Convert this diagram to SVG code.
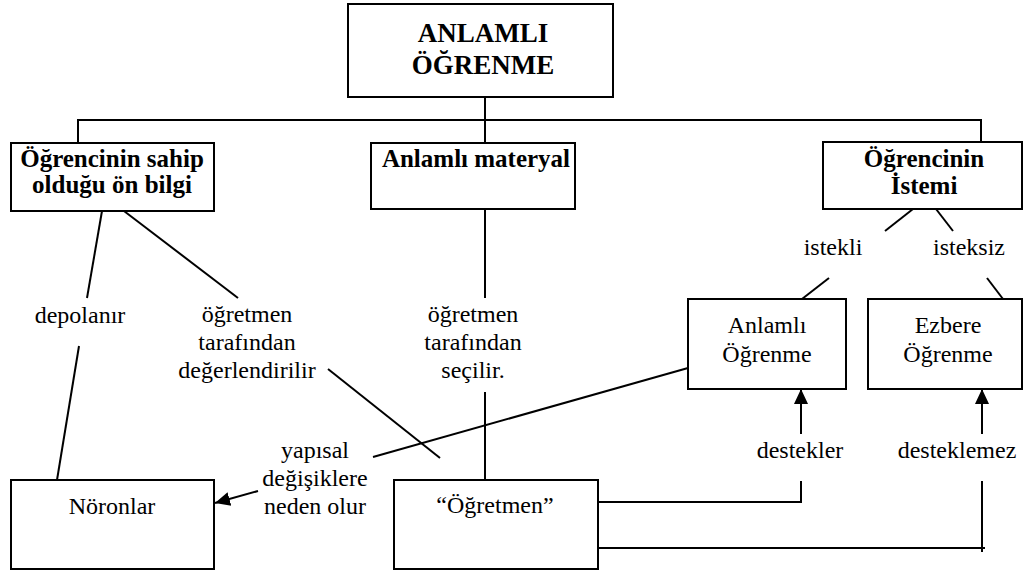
<svg xmlns="http://www.w3.org/2000/svg" width="1023" height="571" viewBox="0 0 1023 571">
<style>
.box{fill:#fff;stroke:#000;stroke-width:2}
.ln{fill:none;stroke:#000;stroke-width:2}
.t{font-family:"Liberation Serif","Times New Roman",serif;font-size:24px;text-anchor:middle;fill:#000}
.b{font-family:"Liberation Serif","Times New Roman",serif;font-size:25px;font-weight:bold;text-anchor:middle;fill:#000}
.h{font-size:27px}
</style>
<defs>
<marker id="ah" markerUnits="userSpaceOnUse" markerWidth="16" markerHeight="16" viewBox="0 0 16 16" refX="15" refY="8" orient="auto">
<path d="M0,1 L15,8 L0,15 Z" fill="#000"/>
</marker>
</defs>
<rect width="1023" height="571" fill="#fff"/>
<g id="connectors">
<polyline class="ln" points="485,97 485,120"/>
<polyline class="ln" points="78,143 78,120 981,120 981,143"/>
<line class="ln" x1="485" y1="120" x2="485" y2="143"/>
<line class="ln" x1="102" y1="211" x2="87" y2="298"/>
<line class="ln" x1="79" y1="346" x2="57" y2="480"/>
<line class="ln" x1="124" y1="211" x2="238" y2="298"/>
<line class="ln" x1="328" y1="369" x2="440" y2="458"/>
<line class="ln" x1="485" y1="209" x2="485" y2="298"/>
<line class="ln" x1="485" y1="392" x2="485" y2="480"/>
<line class="ln" x1="913" y1="209" x2="885" y2="231"/>
<line class="ln" x1="936" y1="209" x2="953" y2="231"/>
<line class="ln" x1="829" y1="278" x2="802" y2="299"/>
<line class="ln" x1="987" y1="278" x2="1003" y2="299"/>
<line class="ln" x1="688" y1="368" x2="373" y2="457"/>
<line class="ln" x1="258" y1="491" x2="215" y2="503" marker-end="url(#ah)"/>
<line class="ln" x1="801" y1="434" x2="801" y2="389" marker-end="url(#ah)"/>
<line class="ln" x1="982" y1="434" x2="982" y2="389" marker-end="url(#ah)"/>
<polyline class="ln" points="801,481 801,502 598,502"/>
<line class="ln" x1="982" y1="481" x2="982" y2="552"/>
<line class="ln" x1="598" y1="548" x2="985" y2="548"/>
</g>
<g id="labels">
<text class="t" x="80" y="323">depolanır</text>
<text class="t" x="247" y="322">öğretmen</text>
<text class="t" x="247" y="350">tarafından</text>
<text class="t" x="247" y="378">değerlendirilir</text>
<text class="t" x="473" y="322">öğretmen</text>
<text class="t" x="473" y="350">tarafından</text>
<text class="t" x="473" y="378">seçilir.</text>
<text class="t" x="833" y="255">istekli</text>
<text class="t" x="969" y="255">isteksiz</text>
<text class="t" x="800" y="458">destekler</text>
<text class="t" x="957" y="458">desteklemez</text>
<text class="t" x="315" y="458">yapısal</text>
<text class="t" x="315" y="486">değişiklere</text>
<text class="t" x="315" y="514">neden olur</text>
</g>
<g id="n-anlamli-ogrenme-top">
<rect class="box" x="348" y="4" width="265" height="93"/>
<text class="b h" x="483" y="42">ANLAMLI</text>
<text class="b h" x="483" y="74">ÖĞRENME</text>
</g>
<g id="n-onbilgi">
<rect class="box" x="11" y="143" width="203" height="68"/>
<text class="b" x="112" y="167">Öğrencinin sahip</text>
<text class="b" x="112" y="193">olduğu ön bilgi</text>
</g>
<g id="n-materyal">
<rect class="box" x="371" y="143" width="204" height="66"/>
<text class="b" x="476" y="167">Anlamlı materyal</text>
</g>
<g id="n-istemi">
<rect class="box" x="823" y="142" width="199" height="67"/>
<text class="b" x="924" y="167">Öğrencinin</text>
<text class="b" x="924" y="194">İstemi</text>
</g>
<g id="n-anlamli">
<rect class="box" x="688" y="299" width="158" height="90"/>
<text class="t" x="767" y="333">Anlamlı</text>
<text class="t" x="767" y="362">Öğrenme</text>
</g>
<g id="n-ezbere">
<rect class="box" x="868" y="299" width="154" height="90"/>
<text class="t" x="948" y="333">Ezbere</text>
<text class="t" x="948" y="362">Öğrenme</text>
</g>
<g id="n-noronlar">
<rect class="box" x="11" y="480" width="203" height="89"/>
<text class="t" x="112" y="514">Nöronlar</text>
</g>
<g id="n-ogretmen">
<rect class="box" x="394" y="480" width="204" height="89"/>
<text class="t" x="495" y="513">“Öğretmen”</text>
</g>
</svg>
